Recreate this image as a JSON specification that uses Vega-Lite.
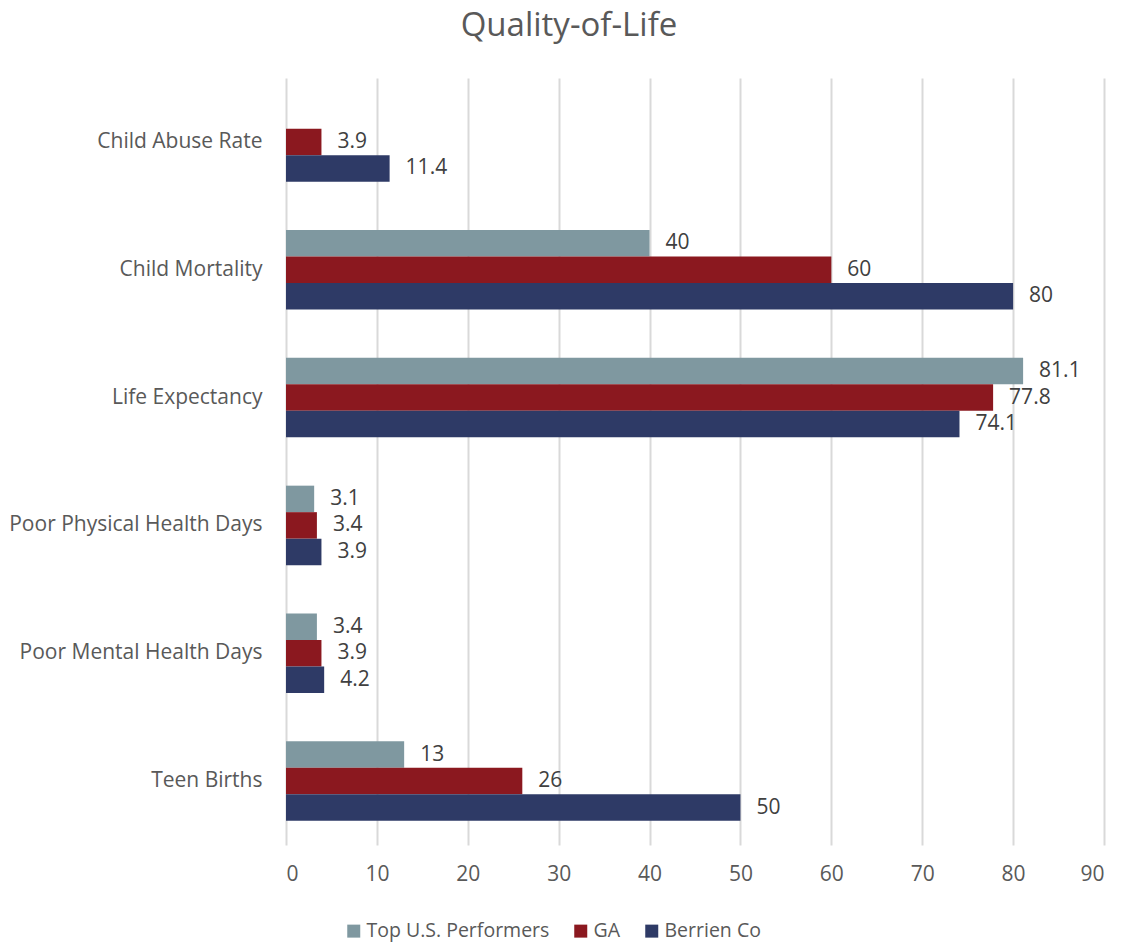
{
  "$schema": "https://vega.github.io/schema/vega-lite/v6.json",
  "autosize": "none",
  "width": 818,
  "height": 767,
  "padding": {"left": 286, "top": 78, "right": 18, "bottom": 101},
  "background": "white",
  "title": {
    "text": "Quality-of-Life",
    "font": "Open Sans",
    "fontSize": 33,
    "fontWeight": "normal",
    "color": "#595959",
    "anchor": "middle",
    "frame": "group",
    "dx": -126,
    "baseline": "alphabetic",
    "offset": 9
  },
  "config": {
    "view": {"stroke": null},
    "font": "Open Sans"
  },
  "data": {
    "values": [
      {"measure": "Child Abuse Rate", "series": "GA", "value": 3.9},
      {"measure": "Child Abuse Rate", "series": "Berrien Co", "value": 11.4},
      {"measure": "Child Mortality", "series": "Top U.S. Performers", "value": 40},
      {"measure": "Child Mortality", "series": "GA", "value": 60},
      {"measure": "Child Mortality", "series": "Berrien Co", "value": 80},
      {"measure": "Life Expectancy", "series": "Top U.S. Performers", "value": 81.1},
      {"measure": "Life Expectancy", "series": "GA", "value": 77.8},
      {"measure": "Life Expectancy", "series": "Berrien Co", "value": 74.1},
      {"measure": "Poor Physical Health Days", "series": "Top U.S. Performers", "value": 3.1},
      {"measure": "Poor Physical Health Days", "series": "GA", "value": 3.4},
      {"measure": "Poor Physical Health Days", "series": "Berrien Co", "value": 3.9},
      {"measure": "Poor Mental Health Days", "series": "Top U.S. Performers", "value": 3.4},
      {"measure": "Poor Mental Health Days", "series": "GA", "value": 3.9},
      {"measure": "Poor Mental Health Days", "series": "Berrien Co", "value": 4.2},
      {"measure": "Teen Births", "series": "Top U.S. Performers", "value": 13},
      {"measure": "Teen Births", "series": "GA", "value": 26},
      {"measure": "Teen Births", "series": "Berrien Co", "value": 50}
    ]
  },
  "encoding": {
    "y": {
      "field": "measure",
      "type": "nominal",
      "sort": ["Child Abuse Rate", "Child Mortality", "Life Expectancy", "Poor Physical Health Days", "Poor Mental Health Days", "Teen Births"],
      "scale": {"paddingInner": 0.378, "paddingOuter": 0.189},
      "axis": {
        "title": null,
        "domain": false,
        "ticks": false,
        "labelPadding": 24,
        "labelFont": "Open Sans",
        "labelFontSize": 21,
        "labelColor": "#595959",
        "labelLimit": 400
      }
    },
    "yOffset": {
      "field": "series",
      "type": "nominal",
      "sort": ["Top U.S. Performers", "GA", "Berrien Co"],
      "scale": {"domain": ["Top U.S. Performers", "GA", "Berrien Co"], "paddingInner": 0, "paddingOuter": 0}
    },
    "x": {
      "field": "value",
      "type": "quantitative",
      "scale": {"domain": [0, 90], "nice": false},
      "axis": {
        "title": null,
        "values": [0, 10, 20, 30, 40, 50, 60, 70, 80, 90],
        "domain": false,
        "ticks": false,
        "grid": true,
        "gridColor": "#d9d9d9",
        "gridWidth": 2,
        "labelPadding": 18,
        "labelFont": "Open Sans",
        "labelFontSize": 21,
        "labelColor": "#595959"
      }
    }
  },
  "layer": [
    {
      "mark": {"type": "bar"},
      "encoding": {
        "color": {
          "field": "series",
          "type": "nominal",
          "scale": {
            "domain": ["Top U.S. Performers", "GA", "Berrien Co"],
            "range": ["#7f98a0", "#8b181f", "#2e3a66"]
          },
          "legend": {
            "title": null,
            "orient": "none",
            "direction": "horizontal",
            "legendX": 58,
            "legendY": 843,
            "symbolType": "square",
            "symbolSize": 169,
            "symbolStrokeWidth": 0,
            "symbolOpacity": 1,
            "labelFont": "Open Sans",
            "labelFontSize": 19.5,
            "labelColor": "#595959",
            "labelOffset": 3,
            "columnPadding": 21,
            "labelLimit": 400
          }
        }
      }
    },
    {
      "mark": {
        "type": "text",
        "align": "left",
        "baseline": "middle",
        "dx": 16,
        "font": "Open Sans",
        "fontSize": 21,
        "color": "#404040"
      },
      "encoding": {
        "text": {"field": "value", "type": "quantitative"}
      }
    }
  ]
}
